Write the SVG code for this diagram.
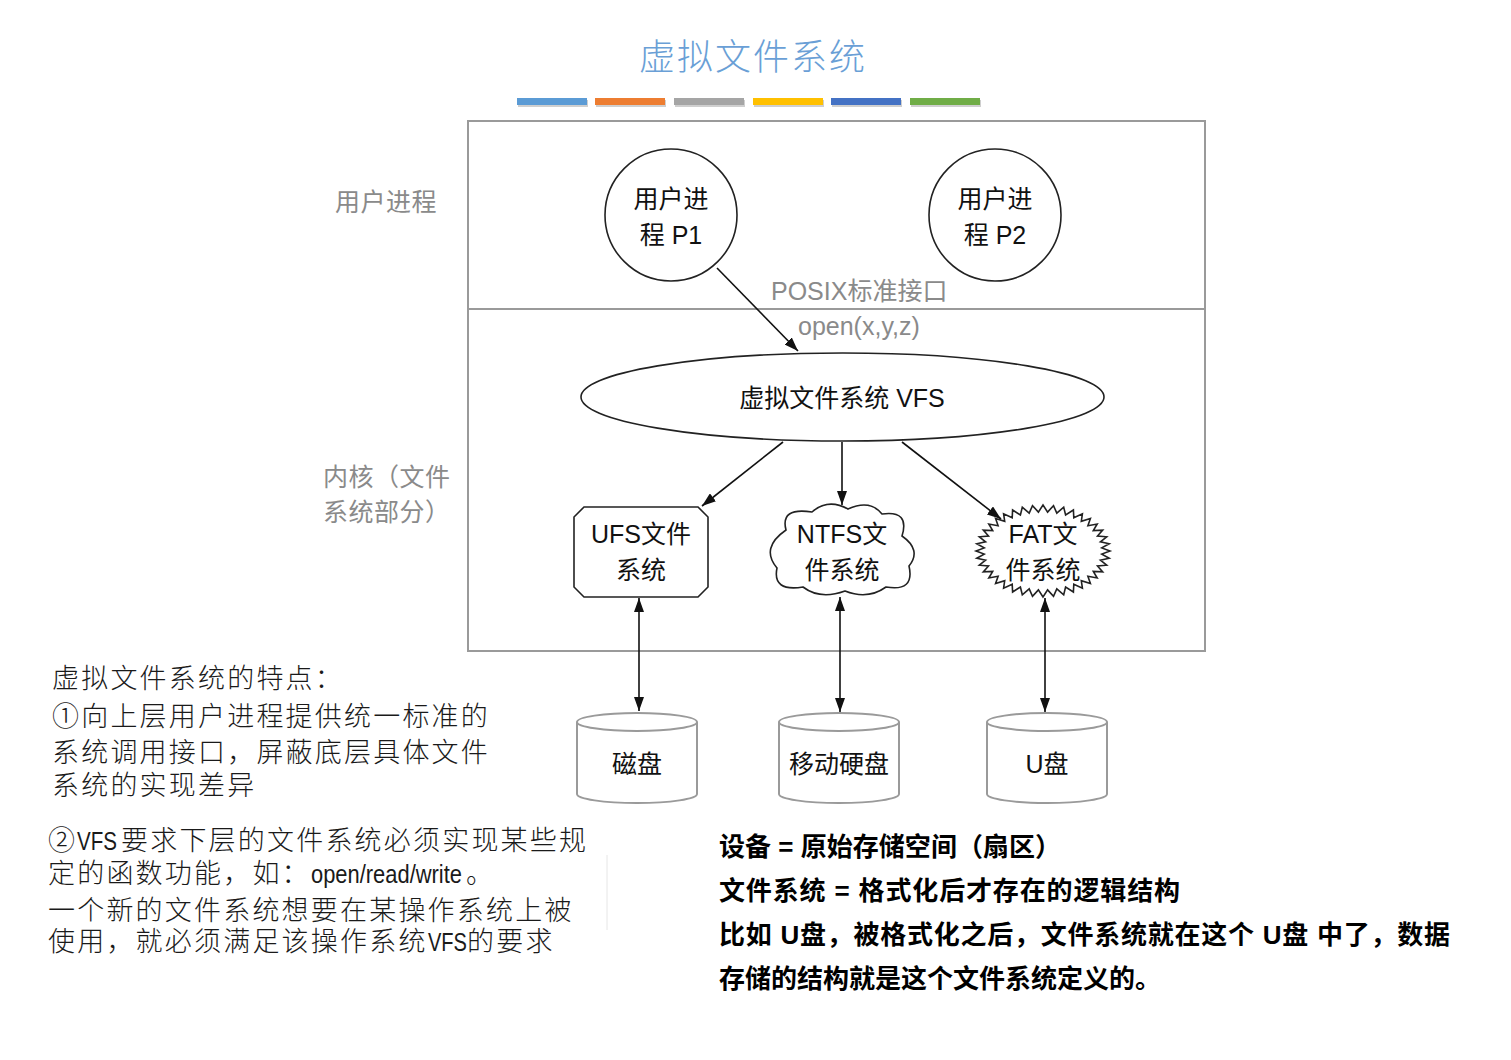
<svg xmlns="http://www.w3.org/2000/svg" width="1511" height="1060" viewBox="0 0 1511 1060">
<style>
.lbl{font-family:"Liberation Sans","Noto Sans CJK SC",sans-serif;font-size:25px;fill:#111;text-anchor:middle}
.gray{font-family:"Liberation Sans","Noto Sans CJK SC",sans-serif;font-size:25px;fill:#8a8a8a}
.shape{fill:#fff;stroke:#222;stroke-width:1.6}
.cyl{fill:#fff;stroke:#9a9a9a;stroke-width:2}
.conn{stroke:#111;stroke-width:1.6;fill:none}
.note{font-family:"Noto Sans CJK SC",sans-serif;font-size:27px;font-weight:300;fill:#1a1a1a;letter-spacing:2.2px}
.lat{font-family:"Liberation Sans",sans-serif;font-size:25px;letter-spacing:0}
.bold{font-family:"Liberation Sans","Noto Sans CJK SC",sans-serif;font-size:26px;font-weight:bold;fill:#000}
</style>
<defs>
<marker id="ah" viewBox="0 0 14 10" refX="14" refY="5" markerWidth="14" markerHeight="10" markerUnits="userSpaceOnUse" orient="auto-start-reverse">
<path d="M0,0 L14,5 L0,10 z" fill="#111"/>
</marker>
</defs>
<rect width="1511" height="1060" fill="#fff"/>

<g id="title">
<text x="753" y="70" text-anchor="middle" style="font-family:'Noto Sans CJK SC',sans-serif;font-size:36px;font-weight:300;fill:#6a9fd6;letter-spacing:2px">虚拟文件系统</text>
<g id="bars">
<rect x="518" y="100" width="70" height="7" fill="#cfcfcf"/>
<rect x="596" y="100" width="70" height="7" fill="#cfcfcf"/>
<rect x="675" y="100" width="70" height="7" fill="#cfcfcf"/>
<rect x="754" y="100" width="70" height="7" fill="#cfcfcf"/>
<rect x="832" y="100" width="70" height="7" fill="#cfcfcf"/>
<rect x="911" y="100" width="70" height="7" fill="#cfcfcf"/>
<rect x="517" y="98" width="70" height="7" fill="#5b9bd5"/>
<rect x="595" y="98" width="70" height="7" fill="#ed7d31"/>
<rect x="674" y="98" width="70" height="7" fill="#a5a5a5"/>
<rect x="753" y="98" width="70" height="7" fill="#ffc000"/>
<rect x="831" y="98" width="70" height="7" fill="#4472c4"/>
<rect x="910" y="98" width="70" height="7" fill="#70ad47"/>
</g>
</g>

<g id="frame">
<rect x="468" y="121" width="737" height="530" fill="none" stroke="#9a9a9a" stroke-width="2"/>
<line x1="468" y1="309" x2="1205" y2="309" stroke="#9a9a9a" stroke-width="2"/>
</g>

<g id="layer-labels">
<text class="gray" x="335" y="211" style="letter-spacing:0.5px">用户进程</text>
<text class="gray" x="323" y="486" style="letter-spacing:0.5px">内核（文件</text>
<text class="gray" x="323" y="521" style="letter-spacing:0.5px">系统部分）</text>
<text class="gray" x="771" y="300">POSIX标准接口</text>
<text class="gray" x="798" y="335">open(x,y,z)</text>
</g>

<g id="p1">
<circle class="shape" cx="671" cy="215" r="66"/>
<text class="lbl" x="671" y="208">用户进</text>
<text class="lbl" x="671" y="244">程 P1</text>
</g>
<g id="p2">
<circle class="shape" cx="995" cy="215" r="66"/>
<text class="lbl" x="995" y="208">用户进</text>
<text class="lbl" x="995" y="244">程 P2</text>
</g>

<g id="vfs">
<ellipse class="shape" cx="842.5" cy="397" rx="261.5" ry="44"/>
<text class="lbl" x="842" y="407">虚拟文件系统 VFS</text>
</g>

<g id="ufs">
<polygon class="shape" points="584,507 698,507 708,517 708,587 698,597 584,597 574,587 574,517"/>
<text class="lbl" x="641" y="543">UFS文件</text>
<text class="lbl" x="641" y="579">系统</text>
</g>

<g id="ntfs">
<path class="shape" d="M786,530 Q780,507 812,512 Q828,498 848,509 Q870,499 882,514 Q910,510 902,536 Q922,550 909,566 Q915,592 886,587 Q868,600 845,591 Q820,600 803,587 Q772,592 777,568 Q760,548 786,530 Z"/>
<text class="lbl" x="842" y="543">NTFS文</text>
<text class="lbl" x="842" y="579">件系统</text>
</g>

<g id="fat">
<polygon class="shape" points="1110,551 1101.8,554.1 1109.2,558.2 1100.4,560.1 1106.7,565.2 1097.5,565.9 1102.7,571.9 1093.3,571.4 1097.2,578 1087.9,576.3 1090.4,583.5 1081.3,580.7 1082.4,588.2 1073.8,584.3 1073.4,592 1065.6,587 1063.7,594.8 1056.8,588.9 1053.5,596.4 1047.6,589.9 1043,597 1038.4,589.9 1032.5,596.4 1029.2,588.9 1022.3,594.8 1020.4,587 1012.6,592 1012.2,584.3 1003.6,588.2 1004.7,580.7 995.6,583.5 998.1,576.3 988.8,578 992.7,571.4 983.3,571.9 988.5,565.9 979.3,565.2 985.6,560.1 976.8,558.2 984.2,554.1 976,551 984.2,547.9 976.8,543.8 985.6,541.9 979.3,536.8 988.5,536.1 983.3,530.1 992.7,530.6 988.8,524 998.1,525.7 995.6,518.5 1004.7,521.3 1003.6,513.8 1012.2,517.7 1012.6,510 1020.4,515 1022.3,507.2 1029.2,513.1 1032.5,505.6 1038.4,512.1 1043,505 1047.6,512.1 1053.5,505.6 1056.8,513.1 1063.7,507.2 1065.6,515 1073.4,510 1073.8,517.7 1082.4,513.8 1081.3,521.3 1090.4,518.5 1087.9,525.7 1097.2,524 1093.3,530.6 1102.7,530.1 1097.5,536.1 1106.7,536.8 1100.4,541.9 1109.2,543.8 1101.8,547.9"/>
<text class="lbl" x="1043" y="543">FAT文</text>
<text class="lbl" x="1043" y="579">件系统</text>
</g>

<g id="disk">
<path class="cyl" d="M577,722 A60,9 0 0 1 697,722 L697,794 A60,9 0 0 1 577,794 Z"/>
<path class="cyl" d="M577,722 A60,9 0 0 0 697,722" fill="none"/>
<text class="lbl" x="637" y="773">磁盘</text>
</g>
<g id="hdd">
<path class="cyl" d="M779,722 A60,9 0 0 1 899,722 L899,794 A60,9 0 0 1 779,794 Z"/>
<path class="cyl" d="M779,722 A60,9 0 0 0 899,722" fill="none"/>
<text class="lbl" x="839" y="773">移动硬盘</text>
</g>
<g id="udisk">
<path class="cyl" d="M987,722 A60,9 0 0 1 1107,722 L1107,794 A60,9 0 0 1 987,794 Z"/>
<path class="cyl" d="M987,722 A60,9 0 0 0 1107,722" fill="none"/>
<text class="lbl" x="1047" y="773">U盘</text>
</g>

<g id="connectors">
<line class="conn" x1="717" y1="268" x2="798" y2="351" marker-end="url(#ah)"/>
<line class="conn" x1="783" y1="442" x2="702" y2="506" marker-end="url(#ah)"/>
<line class="conn" x1="842" y1="442" x2="842" y2="505" marker-end="url(#ah)"/>
<line class="conn" x1="902" y1="442" x2="1001" y2="519" marker-end="url(#ah)"/>
<line class="conn" x1="639" y1="598" x2="639" y2="711" marker-start="url(#ah)" marker-end="url(#ah)"/>
<line class="conn" x1="840" y1="597" x2="840" y2="712" marker-start="url(#ah)" marker-end="url(#ah)"/>
<line class="conn" x1="1045" y1="598" x2="1045" y2="712" marker-start="url(#ah)" marker-end="url(#ah)"/>
</g>

<g id="notes-left">
<text class="note" x="52" y="688">虚拟文件系统的特点：</text>
<text class="note" x="52" y="726">①向上层用户进程提供统一标准的</text>
<text class="note" x="52" y="762">系统调用接口，屏蔽底层具体文件</text>
<text class="note" x="52" y="795">系统的实现差异</text>
<text class="note" y="850"><tspan x="48">②</tspan><tspan class="lat" x="77" textLength="40" lengthAdjust="spacingAndGlyphs">VFS</tspan><tspan x="121">要求下层的文件系统必须实现某些规</tspan></text>
<text class="note" y="883"><tspan x="48">定的函数功能，如：</tspan><tspan class="lat" x="311" textLength="151" lengthAdjust="spacingAndGlyphs">open/read/write</tspan><tspan x="466">。</tspan></text>
<text class="note" x="48" y="920">一个新的文件系统想要在某操作系统上被</text>
<text class="note" y="951"><tspan x="48">使用，就必须满足该操作系统</tspan><tspan class="lat" x="428" textLength="39" lengthAdjust="spacingAndGlyphs">VFS</tspan><tspan x="467">的要求</tspan></text>
<line x1="607" y1="855" x2="607" y2="930" stroke="#e6e6e6" stroke-width="1"/>
</g>

<g id="notes-right">
<text class="bold" x="719" y="856" textLength="342" lengthAdjust="spacing">设备 = 原始存储空间（扇区）</text>
<text class="bold" x="719" y="900" textLength="461" lengthAdjust="spacing">文件系统 = 格式化后才存在的逻辑结构</text>
<text class="bold" x="719" y="944" textLength="731" lengthAdjust="spacing">比如 U盘，被格式化之后，文件系统就在这个 U盘 中了，数据</text>
<text class="bold" x="719" y="988">存储的结构就是这个文件系统定义的。</text>
</g>
</svg>
